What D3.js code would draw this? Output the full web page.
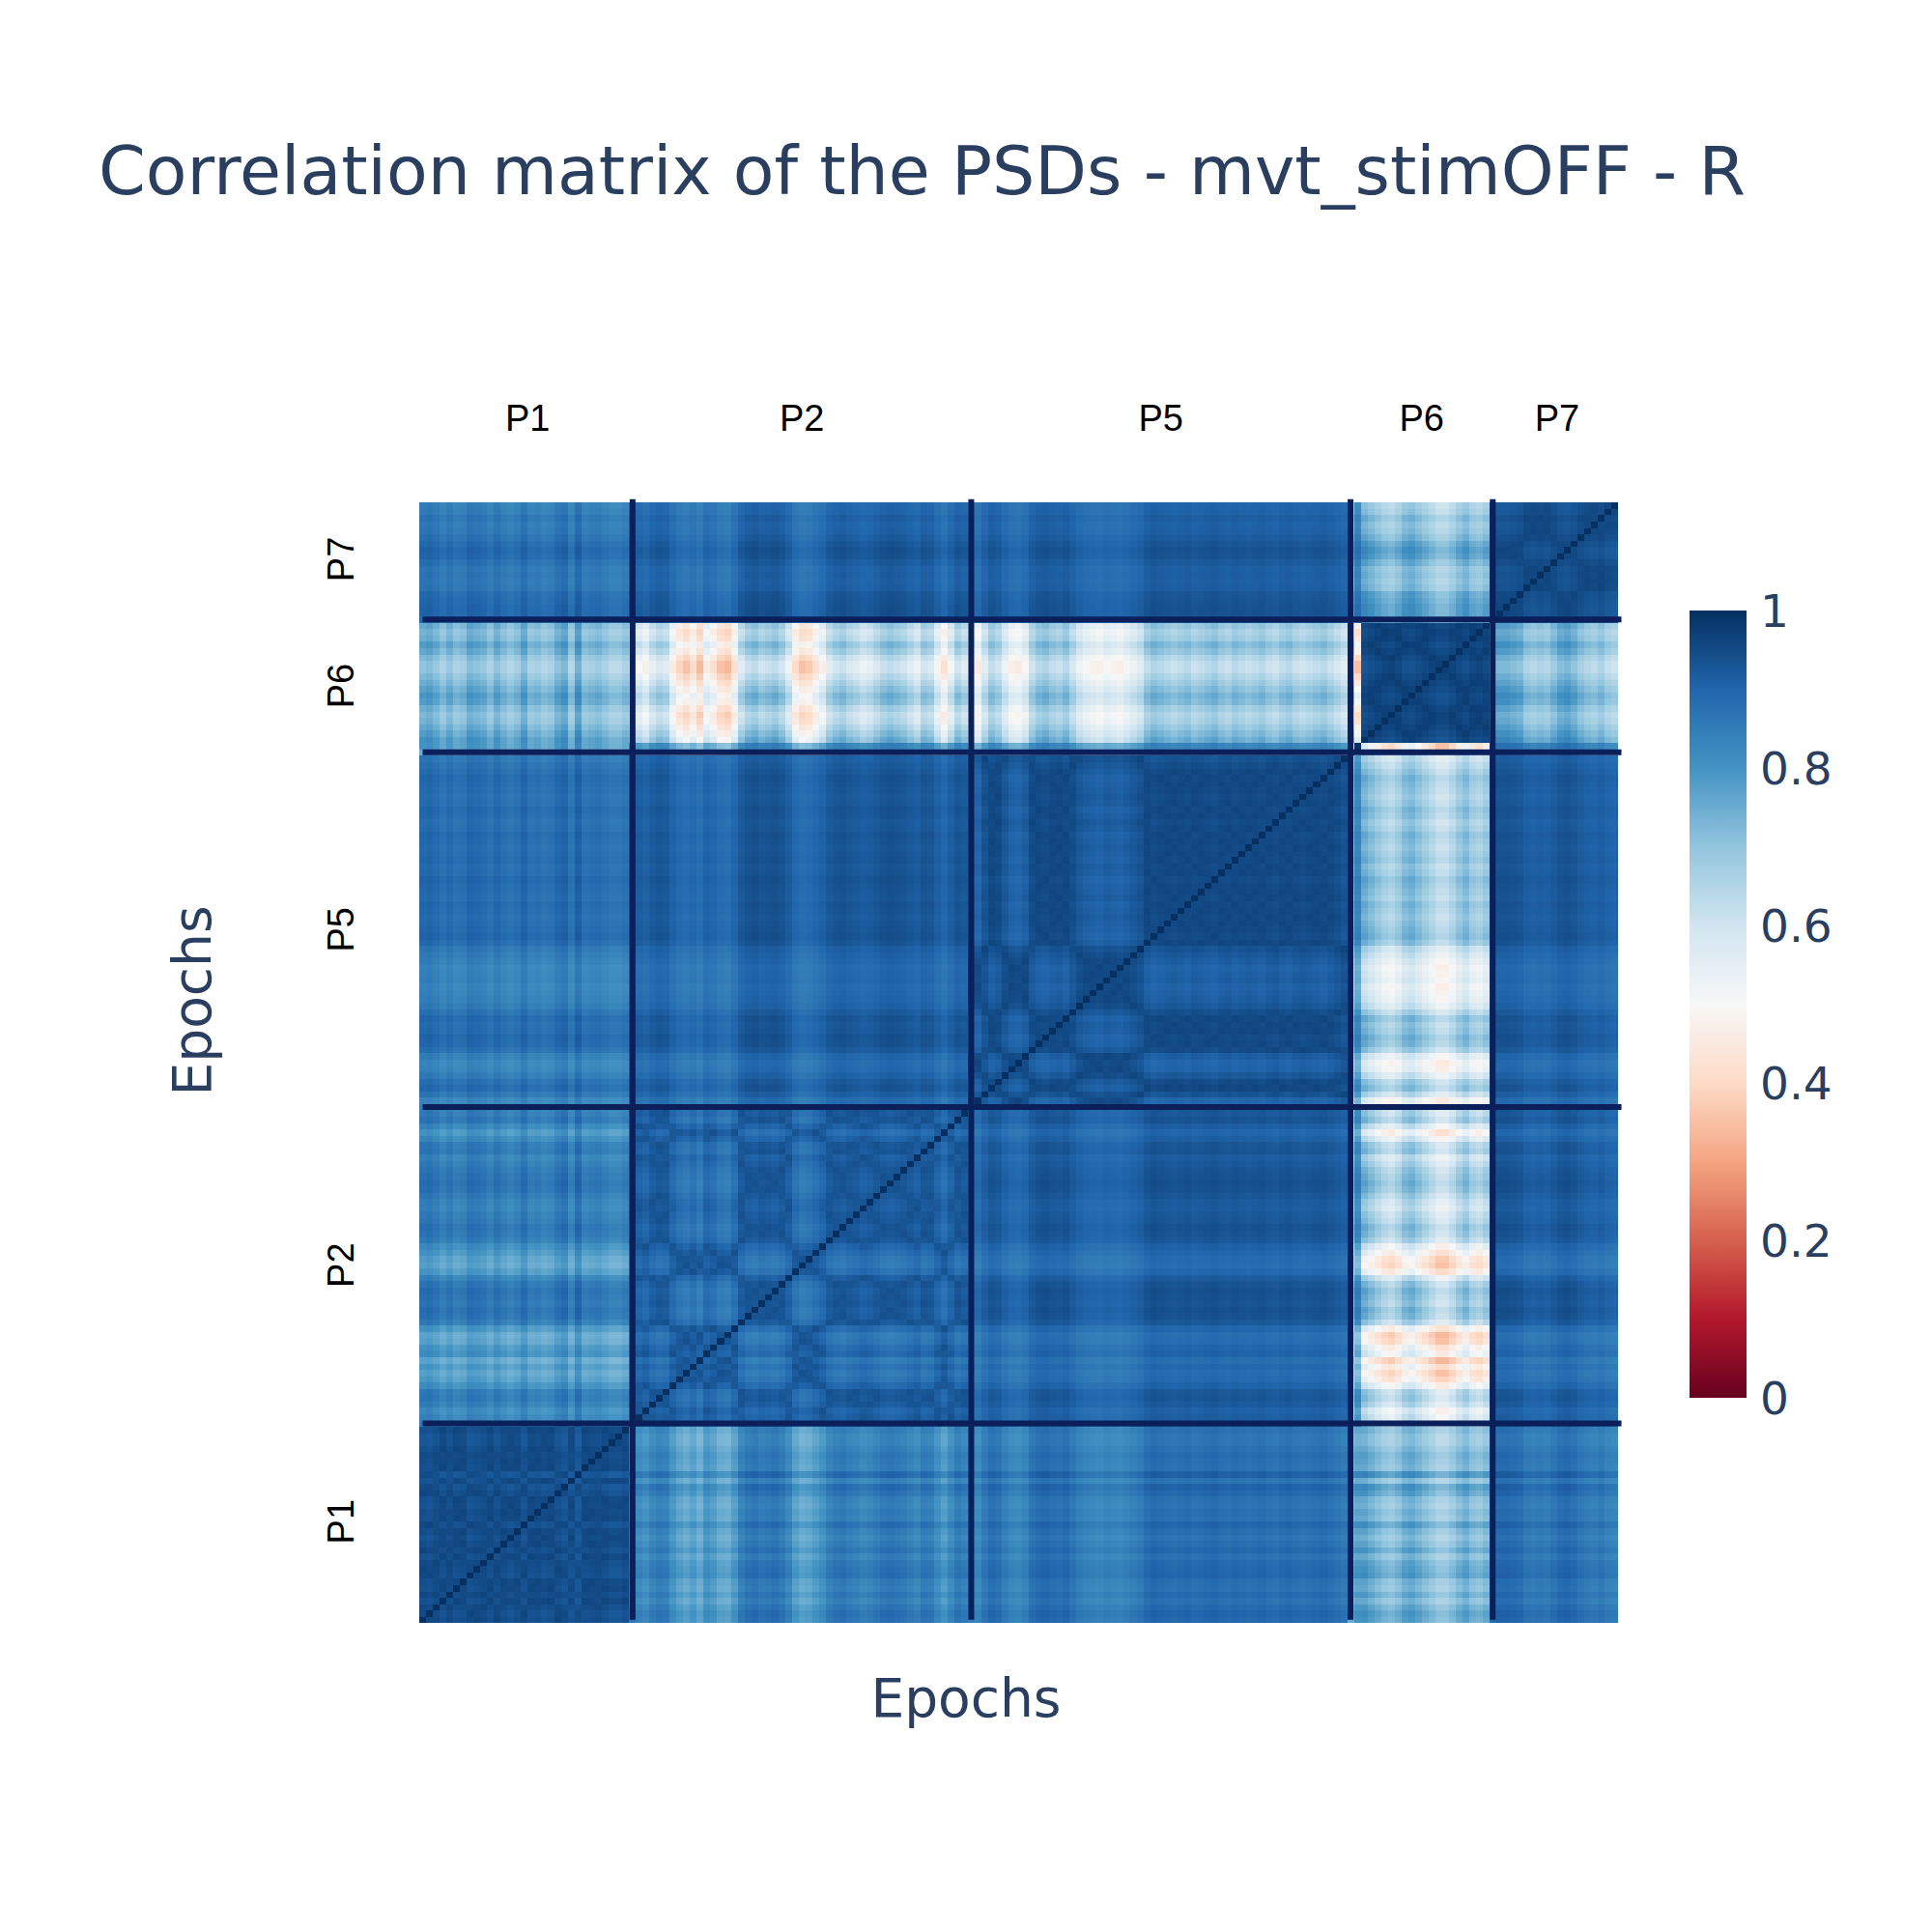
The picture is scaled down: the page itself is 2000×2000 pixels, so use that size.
<!DOCTYPE html>
<html>
<head>
<meta charset="utf-8">
<script src="https://cdn.jsdelivr.net/npm/d3@7"></script>
<style>
  html, body { margin: 0; padding: 0; background: #fff; }
  svg { display: block; }
</style>
</head>
<body>
<div id="chart"></div>
<script>
// ---------------- DATA ----------------
const patients = ["P1", "P2", "P5", "P6", "P7"];
const epochCounts = [31, 50, 56, 21, 19];

// typical correlation between the PSDs of two patient blocks (row block x column block)
const blockCorr = [
  [0.96, 0.86, 0.90, 0.77, 0.89],
  [0.86, 0.94, 0.93, 0.66, 0.92],
  [0.90, 0.93, 0.96, 0.72, 0.93],
  [0.77, 0.66, 0.72, 0.975, 0.76],
  [0.89, 0.92, 0.93, 0.76, 0.96]
];
// how much epochs of the same patient drift apart when their stripe strengths differ
const withinSpread = [0.1, 0.12, 0.1, 0.1, 0.08];

// per-epoch stripe strength (1 = typical, >1 = lighter stripe, <1 = darker stripe)
const stripeP1 = [1.0, 0.95, 1.05, 1.2, 1.05, 1.2, 1.15, 0.95, 1.0, 1.05, 1.2, 1.0, 1.15, 1.25, 1.15, 0.95,
                  1.2, 1.15, 1.25, 1.2, 1.0, 0.9, 1.25, 0.85, 1.2, 1.15, 1.1, 1.2, 1.3, 1.3, 1.2];
const stripeP2 = [1.0, 1.15, 1.25, 1.05, 0.95, 1.0, 1.3, 1.5, 1.6, 1.45, 1.65, 1.3, 1.4, 1.6, 1.65, 1.4,
                  1.0, 0.85, 0.8, 0.9, 0.85, 0.8, 0.9, 1.1, 1.45, 1.6, 1.55, 1.4, 1.25, 1.0, 0.9, 0.85,
                  0.95, 1.0, 1.1, 1.05, 0.95, 0.85, 0.8, 0.85, 0.9, 1.0, 1.1, 0.9, 0.95, 1.2, 1.4, 1.15,
                  0.9, 1.0];
const stripeP5 = [1.55, 1.65, 1.3, 1.05, 1.15, 1.4, 1.6, 1.65, 1.5, 1.15, 1.0, 0.95, 1.05, 1.1, 1.0, 1.2,
                  1.4, 1.5, 1.55, 1.6, 1.5, 1.55, 1.6, 1.5, 1.4, 1.3, 1.05, 0.95, 1.0, 1.05, 1.1, 1.05,
                  1.0, 1.1, 1.05, 1.0, 0.95, 1.05, 1.1, 1.0, 1.05, 1.1, 1.05, 1.0, 1.1, 1.15, 1.05, 1.0,
                  1.1, 1.15, 1.1, 1.05, 1.0, 1.1, 1.2, 1.3];
const stripeP6 = [1.0, 1.0, 0.85, 0.95, 1.05, 1.15, 1.2, 1.1, 0.95, 0.9, 1.0, 1.1, 1.2, 1.3, 1.3, 1.2,
                  1.05, 0.95, 1.1, 1.15, 1.05];
const stripeP7 = [1.0, 0.85, 0.85, 0.9, 0.95, 1.15, 1.2, 1.15, 1.2, 1.05, 0.9, 0.85, 0.95, 1.1, 1.2, 1.25,
                  1.15, 1.3, 1.35];
const stripes = [stripeP1, stripeP2, stripeP5, stripeP6, stripeP7];

// the first two P6 epochs do not follow the P6 pattern: their correlation with each patient block
const oddBlock = 3;                                   // P6
const oddEpochCorr = [
  [0.75, 0.62, 0.72, 0.70, 0.74],                     // 1st P6 epoch (mostly under the separator)
  [0.80, 0.82, 0.84, 0.50, 0.86]                      // 2nd P6 epoch (the outlier)
];
const oddPairCorr = 0.55;

const colorTicks = [0, 0.2, 0.4, 0.6, 0.8, 1];
const rdbu = ["rgb(103,0,31)", "rgb(178,24,43)", "rgb(214,96,77)", "rgb(244,165,130)", "rgb(253,219,199)",
              "rgb(247,247,247)", "rgb(209,229,240)", "rgb(146,197,222)", "rgb(67,147,195)", "rgb(33,102,172)",
              "rgb(5,48,97)"];

const titleText = "Correlation matrix of the PSDs - mvt_stimOFF - R";
const axisTitle = "Epochs";

// ---------------- BUILD EPOCH TABLE ----------------
const epochs = [];
patients.forEach((p, b) => {
  for (let k = 0; k < epochCounts[b]; k++) {
    epochs.push({ block: b, s: stripes[b][k], odd: (b === oddBlock && k < oddEpochCorr.length) ? k : -1 });
  }
});
const N = epochs.length;
const starts = [];
{ let acc = 0; epochCounts.forEach(c => { starts.push(acc); acc += c; }); }

function corr(i, j) {
  if (i === j) return 1;
  const a = epochs[i], b = epochs[j];
  let v;
  if (a.odd >= 0 && b.odd >= 0) {
    v = oddPairCorr;
  } else if (a.odd >= 0 || b.odd >= 0) {
    const odd = a.odd >= 0 ? a : b, other = a.odd >= 0 ? b : a;
    v = 1 - (1 - oddEpochCorr[odd.odd][other.block]) * other.s;
  } else if (a.block === b.block) {
    v = blockCorr[a.block][a.block] - withinSpread[a.block] * Math.abs(a.s - b.s);
  } else {
    v = 1 - (1 - blockCorr[a.block][b.block]) * Math.max(0.3, a.s + b.s - 1);
  }
  return Math.max(0, Math.min(1, v));
}

const cells = [];
for (let j = 0; j < N; j++) for (let i = 0; i < N; i++) cells.push({ i, j, v: corr(i, j) });

// ---------------- DRAW ----------------
const W = 2000, H = 2000;
const svg = d3.select("#chart").append("svg").attr("width", W).attr("height", H)
  .style("background", "#fff");

const x = d3.scaleLinear().domain([-0.5, N - 0.5]).range([434, 1675]);
const y = d3.scaleLinear().domain([-0.5, N - 0.5]).range([1680, 520]);
const color = d3.scaleLinear().domain(d3.range(11).map(d => d / 10)).range(rdbu).interpolate(d3.interpolateRgb).clamp(true);

svg.append("g").attr("shape-rendering", "crispEdges")
  .selectAll("rect").data(cells).join("rect")
  .attr("x", d => x(d.i - 0.5))
  .attr("y", d => y(d.j + 0.5))
  .attr("width", d => x(d.i + 0.5) - x(d.i - 0.5) + 0.3)
  .attr("height", d => y(d.j - 0.5) - y(d.j + 0.5) + 0.3)
  .attr("fill", d => color(d.v));

// separator lines between patients
const bounds = starts.slice(1);
const lineColor = "#0b1f5b";
svg.append("g").selectAll("line").data(bounds).join("line")
  .attr("x1", d => x(d)).attr("x2", d => x(d))
  .attr("y1", y(0)).attr("y2", y(N))
  .attr("stroke", lineColor).attr("stroke-width", 6);
svg.append("g").selectAll("line").data(bounds).join("line")
  .attr("y1", d => y(d)).attr("y2", d => y(d))
  .attr("x1", x(0)).attr("x2", x(N))
  .attr("stroke", lineColor).attr("stroke-width", 6);

// tick labels (patients) at block centres
const tickPos = patients.map((p, b) => starts[b] + epochCounts[b] / 2);
svg.append("g").selectAll("text").data(patients).join("text")
  .attr("x", (d, b) => x(tickPos[b]))
  .attr("y", 446)
  .attr("text-anchor", "middle")
  .attr("font-family", "'Liberation Sans', Arial, sans-serif")
  .attr("font-size", 38)
  .attr("fill", "#000")
  .text(d => d);
svg.append("g").selectAll("text").data(patients).join("text")
  .attr("transform", (d, b) => `translate(366,${y(tickPos[b])}) rotate(-90)`)
  .attr("text-anchor", "middle")
  .attr("font-family", "'Liberation Sans', Arial, sans-serif")
  .attr("font-size", 38)
  .attr("fill", "#000")
  .text(d => d);

// title
svg.append("text")
  .attr("x", 102).attr("y", 201)
  .attr("font-family", "'DejaVu Sans', Verdana, sans-serif")
  .attr("font-size", 69.8)
  .attr("fill", "#2a3f5f")
  .text(titleText);

// axis titles
svg.append("text")
  .attr("x", 1000).attr("y", 1777)
  .attr("text-anchor", "middle")
  .attr("font-family", "'DejaVu Sans', Verdana, sans-serif")
  .attr("font-size", 55)
  .attr("fill", "#2a3f5f")
  .text(axisTitle);
svg.append("text")
  .attr("transform", "translate(218,1036) rotate(-90)")
  .attr("text-anchor", "middle")
  .attr("font-family", "'DejaVu Sans', Verdana, sans-serif")
  .attr("font-size", 55)
  .attr("fill", "#2a3f5f")
  .text(axisTitle);

// colorbar
const cb = d3.scaleLinear().domain([0, 1]).range([1447, 632]);
const defs = svg.append("defs");
const grad = defs.append("linearGradient").attr("id", "cbgrad")
  .attr("x1", 0).attr("y1", 1).attr("x2", 0).attr("y2", 0);
grad.selectAll("stop").data(rdbu).join("stop")
  .attr("offset", (d, k) => k / 10)
  .attr("stop-color", d => d);
svg.append("rect")
  .attr("x", 1749).attr("y", cb(1))
  .attr("width", 59).attr("height", cb(0) - cb(1))
  .attr("fill", "url(#cbgrad)");
svg.append("g").selectAll("text").data(colorTicks).join("text")
  .attr("x", 1822)
  .attr("y", d => cb(d))
  .attr("dy", "0.36em")
  .attr("font-family", "'DejaVu Sans', Verdana, sans-serif")
  .attr("font-size", 47)
  .attr("fill", "#2a3f5f")
  .text(d => d3.format("~g")(d));
</script>
</body>
</html>
